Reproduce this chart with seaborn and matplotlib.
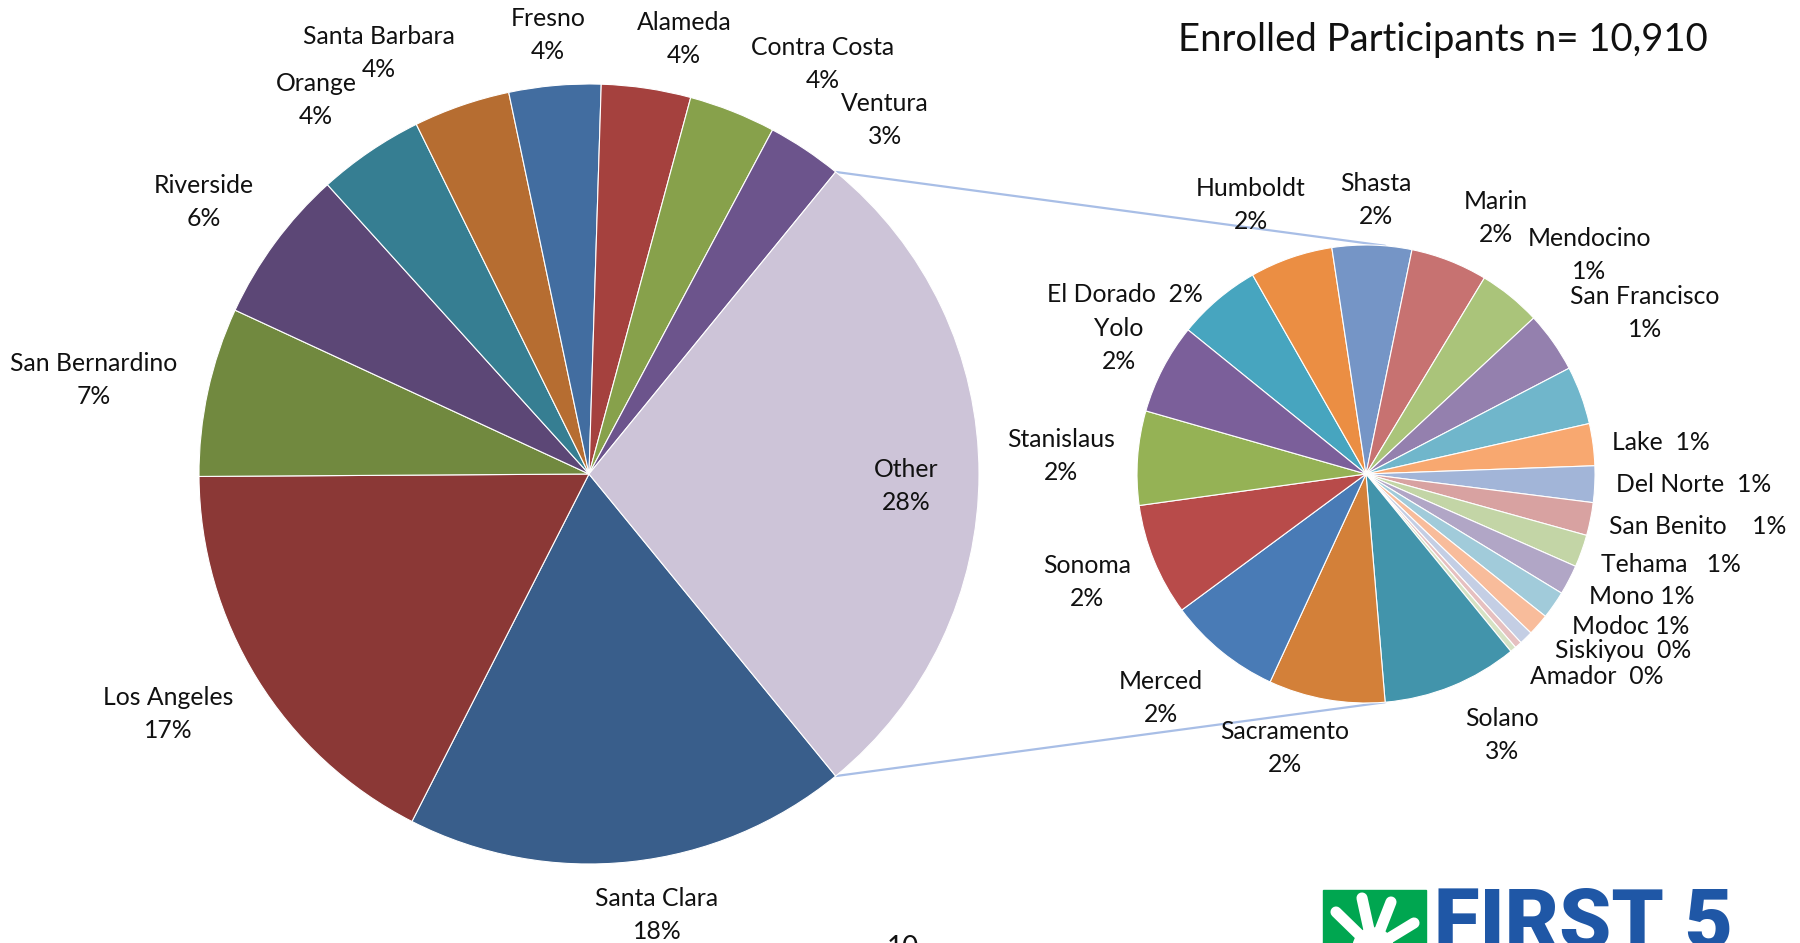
import matplotlib
matplotlib.use("Agg")
import matplotlib.pyplot as plt
from matplotlib.patches import Rectangle, Circle
import numpy as np
import seaborn as sns

# main pie, clockwise from bottom (Excel "pie of pie")
main_names = ["Santa Clara", "Los Angeles", "San Bernardino", "Riverside", "Orange",
              "Santa Barbara", "Fresno", "Alameda", "Contra Costa", "Ventura", "Other"]
main_pct = [18.4, 17.4, 7.0, 6.4, 4.4, 4.0, 3.8, 3.7, 3.6, 3.1, 28.2]
main_labels = ["18%", "17%", "7%", "6%", "4%", "4%", "4%", "4%", "4%", "3%", "28%"]
main_colors = ["#395E8B", "#8B3836", "#71893F", "#5C4776", "#367E92", "#B66D31",
               "#426DA0", "#A5413E", "#87A14B", "#6C548C", "#CDC4D8"]

# breakdown of "Other", clockwise from El Dorado
other_names = ["El Dorado", "Humboldt", "Shasta", "Marin", "Mendocino", "San Francisco", "",
               "Lake", "Del Norte", "San Benito", "Tehama", "Mono", "Modoc", "Siskiyou",
               "Amador", "", "", "Solano", "Sacramento", "Merced", "Sonoma", "Stanislaus", "Yolo"]
other_pct = [1.66, 1.64, 1.57, 1.52, 1.24, 1.20, 1.15, 0.83, 0.72, 0.65, 0.64, 0.59, 0.55,
             0.43, 0.27, 0.14, 0.12, 2.68, 2.30, 2.24, 2.22, 1.86, 1.79]
other_labels = ["2%", "2%", "2%", "2%", "1%", "1%", "", "1%", "1%", "1%", "1%", "1%", "1%",
                "0%", "0%", "", "", "3%", "2%", "2%", "2%", "2%", "2%"]
other_colors = ["#47A5BF", "#EB8E43", "#7595C6", "#C77271", "#AAC47A", "#9480AE", "#70B6CB",
                "#F8A870", "#A2B5D8", "#D8A2A1", "#C3D5A6", "#B1A6C6", "#A1CBDA", "#F8BC9B",
                "#C4CEE4", "#E6C0C0", "#D6E2C4", "#4294AB", "#D38039", "#497BB6", "#B84B4A",
                "#95B255", "#7B5F9A"]

title = "Enrolled Participants n= 10,910"

# label placement (image pixels, y down) -- hand arranged like the original slide
# sep None -> name and percent on two lines, otherwise one line joined by sep
label_pos = {
    "Santa Clara": (657, 915, None), "Los Angeles": (168, 714, None),
    "San Bernardino": (94, 380, None), "Riverside": (204, 202, None),
    "Orange": (316, 100, None), "Santa Barbara": (379, 53, None),
    "Fresno": (548, 35, None), "Alameda": (684, 39, None),
    "Contra Costa": (823, 64, None), "Ventura": (885, 120, None),
    "Other": (906, 486, None),
    "Humboldt": (1251, 205, None), "Shasta": (1376, 200, None),
    "Marin": (1496, 218, None), "Mendocino": (1589, 255, None),
    "San Francisco": (1645, 313, None), "El Dorado": (1125, 294, "  "),
    "Yolo": (1119, 345, None), "Stanislaus": (1061, 456, None),
    "Sonoma": (1087, 582, None), "Merced": (1161, 698, None),
    "Sacramento": (1285, 748, None), "Solano": (1502, 735, None),
    "Lake": (1661, 442, "  "), "Del Norte": (1694, 485, "  "),
    "San Benito": (1698, 527, "    "), "Tehama": (1671, 564, "   "),
    "Mono": (1642, 597, " "), "Modoc": (1631, 627, " "),
    "Siskiyou": (1623, 651, "  "), "Amador": (1597, 676, "  "),
}
line_gap = 33

W, H = 1800, 943
main_c, main_r = (589, 474), 390
sub_c, sub_r = (1366, 474), 229
sub_start = 141
link_angle = 85.2

sns.set_style("white")
plt.rcParams["font.family"] = ["Lato", "DejaVu Sans"]

fig = plt.figure(figsize=(W / 100, H / 100), dpi=100)
ax = fig.add_axes([0, 0, 1, 1])


def px(x, y):
    return x, H - y


other_half = main_pct[-1] / sum(main_pct) * 180
wedge_kw = dict(edgecolor="white", linewidth=0.8)
ax.pie(main_pct, colors=main_colors, startangle=-other_half, counterclock=False,
       center=px(*main_c), radius=main_r, wedgeprops=wedge_kw)
ax.pie(other_pct, colors=other_colors, startangle=sub_start, counterclock=False,
       center=px(*sub_c), radius=sub_r, wedgeprops=wedge_kw)

# connector lines between the "Other" slice and the second pie
for s in (1, -1):
    a1 = np.radians(s * other_half)
    a2 = np.radians(s * link_angle)
    x1, y1 = px(*main_c)
    x2, y2 = px(*sub_c)
    ax.plot([x1 + main_r * np.cos(a1), x2 + sub_r * np.cos(a2)],
            [y1 + main_r * np.sin(a1), y2 + sub_r * np.sin(a2)],
            color="#A8BEE6", lw=1.6, zorder=0)

txt_kw = dict(ha="center", va="center", fontsize=17.8, color="#111111")
for names, labs in ((main_names, main_labels), (other_names, other_labels)):
    for n, l in zip(names, labs):
        if n not in label_pos:
            continue
        x, y, sep = label_pos[n]
        if sep is None:
            ax.text(*px(x, y - line_gap / 2), n, **txt_kw)
            ax.text(*px(x, y + line_gap / 2), l, **txt_kw)
        else:
            ax.text(*px(x, y), n + sep + l, **txt_kw)

ax.text(*px(1443, 40), title, ha="center", va="center", fontsize=27.5, color="#111111")

# page number and logo peeking in at the bottom edge
ax.text(*px(903, 935), "10", ha="center", va="top", fontsize=20, color="#111111")
ax.add_patch(Rectangle(px(1323, 953), 103, 63, color="#00A650", zorder=3))
palm = px(1373, 948)
ax.add_patch(Circle(palm, 20, color="white", zorder=4))
for tip in [(1336, 912), (1362, 898), (1391, 902), (1414, 923)]:
    t = px(*tip)
    ax.plot([palm[0], t[0]], [palm[1], t[1]], color="white", lw=8,
            solid_capstyle="round", zorder=4)
ax.text(*px(1434, 886), "FIRST 5", ha="left", va="top", fontsize=60,
        fontweight="black", color="#1F57A6", family=["Roboto", "DejaVu Sans"])

ax.set_xlim(0, W)
ax.set_ylim(0, H)
ax.set_aspect("equal")
ax.axis("off")

fig.savefig("out.png", dpi=100, facecolor="white")
